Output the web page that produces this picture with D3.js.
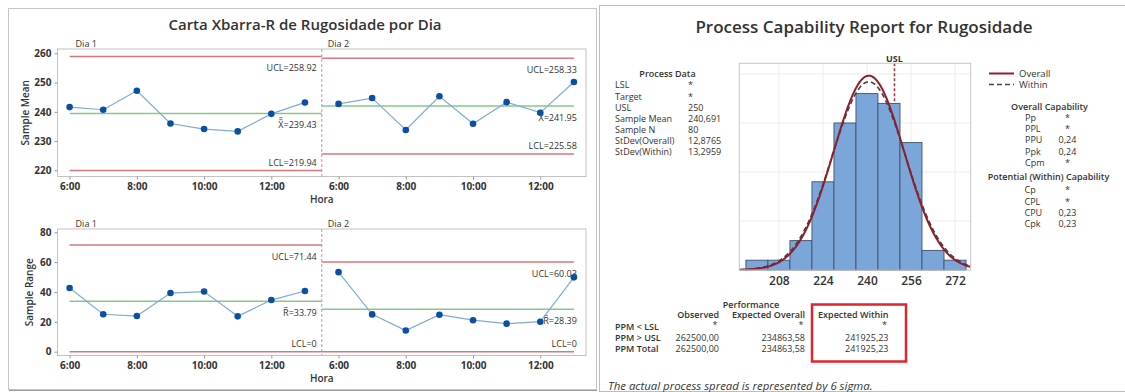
<!DOCTYPE html>
<html>
<head>
<meta charset="utf-8">
<script src="https://cdn.jsdelivr.net/npm/d3@7"></script>
<style>
  body { margin: 0; background: #fff; }
  svg text { font-family: "Open Sans", "Noto Sans", sans-serif; fill: #333; }
</style>
</head>
<body>
<svg id="chart" width="1125" height="392"></svg>
<script>
// ---- Xbar-R data: 8 subgroups (n = 5) per day ----
const hours = ["6:00", "7:00", "8:00", "9:00", "10:00", "11:00", "12:00", "13:00"];
const days = ["Dia 1", "Dia 2"];
const xbarDia1 = [241.6, 240.7, 247.2, 236.0, 234.1, 233.3, 239.3, 243.2];
const xbarDia2 = [242.7, 244.7, 233.8, 245.3, 235.9, 243.3, 239.7, 250.2];
const rangeDia1 = [42.7, 25.1, 23.9, 39.3, 40.3, 23.7, 34.6, 40.7];
const rangeDia2 = [53.3, 25.0, 14.2, 24.8, 21.1, 18.8, 20.1, 49.8];
const xbarUCL = [258.92, 258.33];
const xbarCL = [239.43, 241.95];
const xbarLCL = [219.94, 225.58];
const rangeUCL = [71.44, 60.03];
const rangeCL = [33.79, 28.39];
const rangeLCL = [0, 0];
const xbarTicks = [220, 230, 240, 250, 260];
const rangeTicks = [0, 20, 40, 60, 80];

// ---- Capability data ----
const binMids = [200, 208, 216, 224, 232, 240, 248, 256, 264, 272];
const binCounts = [1, 1, 3, 9, 15, 18, 17, 13, 2, 1];
const binWidth = 8;
const histTicks = [208, 224, 240, 256, 272];
const usl = 250;
const sampleMean = 240.691;
const stdevOverall = 12.8765;
const stdevWithin = 13.2959;
const sampleN = 80;

const processRows = [["LSL", "*"], ["Target", "*"], ["USL", "250"], ["Sample Mean", "240,691"],
  ["Sample N", "80"], ["StDev(Overall)", "12,8765"], ["StDev(Within)", "13,2959"]];
const overallCap = [["Pp", "*"], ["PPL", "*"], ["PPU", "0,24"], ["Ppk", "0,24"], ["Cpm", "*"]];
const withinCap = [["Cp", "*"], ["CPL", "*"], ["CPU", "0,23"], ["Cpk", "0,23"]];
const perfCols = ["Observed", "Expected Overall", "Expected Within"];
const perfRowLabels = ["PPM < LSL", "PPM > USL", "PPM Total"];
const perfObserved = ["*", "262500,00", "262500,00"];
const perfExpOverall = ["*", "234863,58", "234863,58"];
const perfExpWithin = ["*", "241925,23", "241925,23"];

const svg = d3.select("#chart");
const tableFont = "9px";

// ---- panel frames ----
svg.append("rect").attr("x", 8.5).attr("y", 8.5).attr("width", 588).attr("height", 381)
  .attr("fill", "#fff").attr("stroke", "#c6c6c6");
svg.append("line").attr("x1", 9).attr("x2", 597).attr("y1", 390.5).attr("y2", 390.5)
  .attr("stroke", "#9a9a9a").attr("stroke-width", 1);
svg.append("rect").attr("x", 599.5).attr("y", 5.5).attr("width", 540).attr("height", 386)
  .attr("fill", "#fff").attr("stroke", "#bdbdbd");

svg.append("text").attr("x", 305).attr("y", 29.5).attr("text-anchor", "middle")
  .style("font-size", "15px").style("font-weight", 600).text("Carta Xbarra-R de Rugosidade por Dia");

// ================= Xbar-R charts =================
const x = d3.scaleLinear().domain([-0.36, 15.36]).range([57.5, 586]);
const stageSplit = 7.5;
const stageExtent = [[0, stageSplit], [stageSplit, 15]];

function drawControlChart(cfg) {
  const g = svg.append("g");
  const y = cfg.y, ft = cfg.frameTop, fb = cfg.frameBottom;
  const [x0, x1] = x.range();

  g.append("rect").attr("x", x0).attr("y", ft).attr("width", x1 - x0).attr("height", fb - ft)
    .attr("fill", "none").attr("stroke", "#c2c2c2");

  const ya = g.append("g").attr("transform", `translate(${x0},0)`)
    .call(d3.axisLeft(y).tickValues(cfg.ticks).tickSize(3).tickPadding(3));
  ya.select(".domain").remove();
  ya.selectAll("line").attr("stroke", "#999");
  ya.selectAll("text").style("font-size", "10px").style("font-weight", 700).attr("fill", "#333");

  const xa = g.append("g").attr("transform", `translate(0,${fb})`)
    .call(d3.axisBottom(x).tickValues(d3.range(0, 16, 2)).tickFormat(i => hours[i % 8]).tickSize(3).tickPadding(3));
  xa.select(".domain").remove();
  xa.selectAll("line").attr("stroke", "#999");
  xa.selectAll("text").style("font-size", "10px").style("font-weight", 700).attr("fill", "#333");

  g.append("text").attr("x", (x0 + x1) / 2).attr("y", fb + 26.5).attr("text-anchor", "middle")
    .style("font-size", "10px").style("font-weight", 600).attr("fill", "#444").text("Hora");

  g.append("text").attr("transform", `translate(${cfg.titleX},${(ft + fb) / 2}) rotate(-90)`)
    .attr("text-anchor", "middle").style("font-size", "10px").style("font-weight", 600)
    .attr("fill", "#444").text(cfg.yTitle);

  // stage divider
  g.append("line").attr("x1", x(stageSplit)).attr("x2", x(stageSplit)).attr("y1", ft).attr("y2", fb)
    .attr("stroke", "#b68fdc").attr("stroke-width", 1).attr("stroke-dasharray", "3,2");

  days.forEach((d, s) => {
    g.append("text").attr("x", x(stageExtent[s][0]) + 6).attr("y", ft - 2.5)
      .style("font-size", "9px").attr("fill", "#444").text(d);
  });

  cfg.series.forEach((vals, s) => {
    const [a, b] = stageExtent[s];
    const lineSeg = (v, color) => g.append("line").attr("x1", x(a)).attr("x2", x(b))
      .attr("y1", y(v)).attr("y2", y(v)).attr("stroke", color).attr("stroke-width", 1.5);
    lineSeg(cfg.ucl[s], "#d9777b");
    lineSeg(cfg.lcl[s], "#d9777b");
    lineSeg(cfg.cl[s], "#86c88a");

    const anchorX = s === 0 ? x(stageSplit) - 5 : x(15) + 3;
    const lab = (txt, yy) => g.append("text").attr("x", anchorX).attr("y", yy).attr("text-anchor", "end")
      .style("font-size", "9px").attr("fill", "#444").text(txt);
    lab("UCL=" + cfg.ucl[s], y(cfg.ucl[s]) + 14.5);
    lab("LCL=" + cfg.lcl[s], y(cfg.lcl[s]) - 4.8);
    const clY = y(cfg.cl[s]) + 14.5;
    const clText = lab(cfg.clSymbol + "=" + cfg.cl[s], clY);
    // bar(s) over the CL symbol
    const ext = clText.node().getExtentOfChar(0);
    const capTop = clY - 0.72 * 9;
    for (let k = 0; k < cfg.bars; k++) {
      const by = capTop - 1.8 - k * 2;
      g.append("line").attr("x1", ext.x + 1).attr("x2", ext.x + ext.width - 1)
        .attr("y1", by).attr("y2", by).attr("stroke", "#555").attr("stroke-width", 0.8);
    }

    const idx = vals.map((v, i) => s * 8 + i);
    g.append("path").datum(vals)
      .attr("d", d3.line().x((v, i) => x(idx[i])).y(v => y(v)))
      .attr("fill", "none").attr("stroke", "#7faad8").attr("stroke-width", 1.2);
    g.selectAll(null).data(vals).join("circle")
      .attr("cx", (v, i) => x(idx[i])).attr("cy", v => y(v)).attr("r", 3.3).attr("fill", "#0b4fa3");
  });
}

drawControlChart({
  y: d3.scaleLinear().domain([220, 260]).range([170.3, 53.3]),
  frameTop: 49, frameBottom: 176.5, ticks: xbarTicks, yTitle: "Sample Mean", titleX: 29,
  series: [xbarDia1, xbarDia2], ucl: xbarUCL, cl: xbarCL, lcl: xbarLCL, clSymbol: "X", bars: 2
});
drawControlChart({
  y: d3.scaleLinear().domain([0, 80]).range([351.7, 232.3]),
  frameTop: 229, frameBottom: 355.5, ticks: rangeTicks, yTitle: "Sample Range", titleX: 33,
  series: [rangeDia1, rangeDia2], ucl: rangeUCL, cl: rangeCL, lcl: rangeLCL, clSymbol: "R", bars: 1
});

// ================= Capability report =================
svg.append("text").attr("x", 864).attr("y", 32.5).attr("text-anchor", "middle")
  .style("font-size", "17px").style("font-weight", 600).text("Process Capability Report for Rugosidade");

const hx = d3.scaleLinear().domain([193.6, 277.7]).range([739.3, 970.7]);
const hy = d3.scaleLinear().domain([0, 21.09]).range([270, 63.3]);
const hg = svg.append("g");
// grid
hg.selectAll(null).data(histTicks).join("line")
  .attr("x1", d => hx(d)).attr("x2", d => hx(d)).attr("y1", 63.3).attr("y2", 270)
  .attr("stroke", "#ececec");
hg.selectAll(null).data([5, 10, 15, 20]).join("line")
  .attr("x1", 739.3).attr("x2", 970.7).attr("y1", d => hy(d)).attr("y2", d => hy(d))
  .attr("stroke", "#ececec");
// USL reference
hg.append("line").attr("x1", hx(usl)).attr("x2", hx(usl)).attr("y1", 63.3).attr("y2", 270)
  .attr("stroke", "#a83a44").attr("stroke-width", 1.6).attr("stroke-dasharray", "3,2");
hg.append("text").attr("x", hx(usl)).attr("y", 62).attr("text-anchor", "middle")
  .style("font-size", "9px").style("font-weight", 700).attr("fill", "#a83a44").text("USL");
// bars
hg.selectAll(null).data(binMids).join("rect")
  .attr("x", d => hx(d - binWidth / 2)).attr("width", d => hx(d + binWidth / 2) - hx(d - binWidth / 2))
  .attr("y", (d, i) => hy(binCounts[i])).attr("height", (d, i) => hy(0) - hy(binCounts[i]))
  .attr("fill", "#7ba6da").attr("stroke", "#41526a").attr("stroke-width", 0.9);
// fitted normal curves, scaled to counts
const clipId = "hclip";
svg.append("clipPath").attr("id", clipId).append("rect")
  .attr("x", 739.3).attr("y", 50).attr("width", 231.4).attr("height", 220.5);
const xs = d3.range(193.6, 277.8, 0.4);
function normalCurve(sd) {
  return xs.map(v => [v, sampleN * binWidth * Math.exp(-0.5 * ((v - sampleMean) / sd) ** 2) / (sd * Math.sqrt(2 * Math.PI))]);
}
const curveLine = d3.line().x(d => hx(d[0])).y(d => hy(d[1]));
hg.append("path").datum(normalCurve(stdevWithin)).attr("d", curveLine).attr("clip-path", `url(#${clipId})`)
  .attr("fill", "none").attr("stroke", "#444").attr("stroke-width", 1.6).attr("stroke-dasharray", "5,3");
hg.append("path").datum(normalCurve(stdevOverall)).attr("d", curveLine).attr("clip-path", `url(#${clipId})`)
  .attr("fill", "none").attr("stroke", "#8e1f2a").attr("stroke-width", 2);
hg.append("rect").attr("x", 739.3).attr("y", 63.3).attr("width", 231.4).attr("height", 206.7)
  .attr("fill", "none").attr("stroke", "#c6c6c6");
const hxa = hg.append("g").attr("transform", "translate(0,270)")
  .call(d3.axisBottom(hx).tickValues(histTicks).tickSize(0).tickPadding(6));
hxa.select(".domain").remove();
hxa.selectAll("text").style("font-size", "12px").style("font-weight", 600).attr("fill", "#333");

// legend
svg.append("line").attr("x1", 989).attr("x2", 1014).attr("y1", 73.5).attr("y2", 73.5)
  .attr("stroke", "#8e1f2a").attr("stroke-width", 2);
svg.append("line").attr("x1", 989).attr("x2", 1014).attr("y1", 84.5).attr("y2", 84.5)
  .attr("stroke", "#444").attr("stroke-width", 1.6).attr("stroke-dasharray", "5,3");
svg.append("text").attr("x", 1019).attr("y", 76.8).style("font-size", "9.5px").text("Overall");
svg.append("text").attr("x", 1019).attr("y", 87.8).style("font-size", "9.5px").text("Within");

// text tables
function header(txt, cx, yy) {
  svg.append("text").attr("x", cx).attr("y", yy).attr("text-anchor", "middle")
    .style("font-size", tableFont).style("font-weight", 600).attr("fill", "#555").text(txt);
}
header("Process Data", 667.5, 77.3);
processRows.forEach((r, i) => {
  const yy = 88.4 + i * 11.15;
  svg.append("text").attr("x", 615).attr("y", yy).style("font-size", tableFont).text(r[0]);
  svg.append("text").attr("x", 688).attr("y", yy).style("font-size", tableFont).text(r[1]);
});
header("Overall Capability", 1049.5, 110.2);
overallCap.forEach((r, i) => {
  const yy = 121.2 + i * 11.1;
  svg.append("text").attr("x", 1025).attr("y", yy).style("font-size", tableFont).text(r[0]);
  svg.append("text").attr("x", 1067.5).attr("y", yy).attr("text-anchor", "middle").style("font-size", tableFont).text(r[1]);
});
header("Potential (Within) Capability", 1048.5, 180.2);
withinCap.forEach((r, i) => {
  const yy = 193.4 + i * 11.1;
  svg.append("text").attr("x", 1024.5).attr("y", yy).style("font-size", tableFont).text(r[0]);
  svg.append("text").attr("x", 1067.5).attr("y", yy).attr("text-anchor", "middle").style("font-size", tableFont).text(r[1]);
});

// performance table
header("Performance", 751, 307.6);
const colRight = [719, 805, 888.5];
perfCols.forEach((c, j) => {
  svg.append("text").attr("x", colRight[j]).attr("y", 318.4).attr("text-anchor", "end")
    .style("font-size", tableFont).style("font-weight", 600).attr("fill", "#555").text(c);
});
const perfValues = [perfObserved, perfExpOverall, perfExpWithin];
perfRowLabels.forEach((lab, i) => {
  const yy = 330 + i * 11.2;
  svg.append("text").attr("x", 615).attr("y", yy).style("font-size", tableFont).style("font-weight", 600)
    .attr("fill", "#444").text(lab);
  perfValues.forEach((col, j) => {
    svg.append("text").attr("x", colRight[j] - (col[i] === "*" ? 1.5 : 0)).attr("y", i === 0 ? yy - 2.5 : yy)
      .attr("text-anchor", "end").style("font-size", tableFont).text(col[i]);
  });
});
svg.append("rect").attr("x", 812).attr("y", 304.5).attr("width", 94).attr("height", 57)
  .attr("fill", "none").attr("stroke", "#e0262c").attr("stroke-width", 2.5);

svg.append("text").attr("x", 608).attr("y", 389.5).style("font-size", "11.4px").style("font-style", "italic")
  .attr("fill", "#333").text("The actual process spread is represented by 6 sigma.");
</script>
</body>
</html>
